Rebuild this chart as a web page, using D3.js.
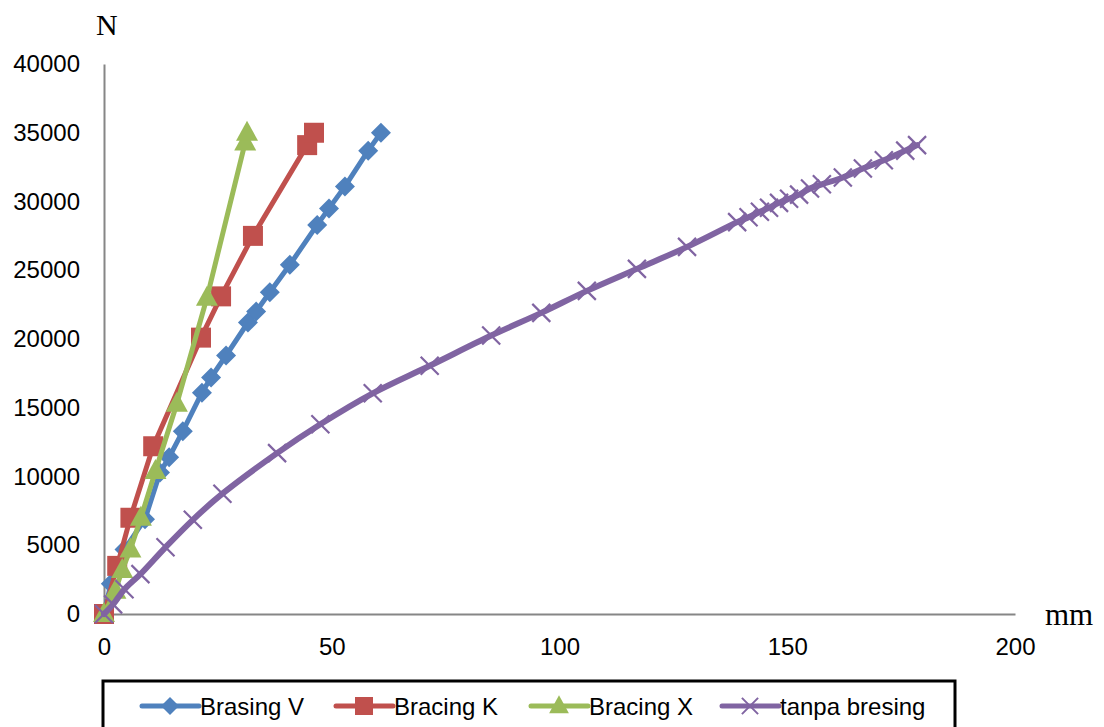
<!DOCTYPE html>
<html>
<head>
<meta charset="utf-8">
<script src="https://cdn.jsdelivr.net/npm/d3@7"></script>
<style>
  html, body { margin: 0; padding: 0; background: #ffffff; }
  svg { display: block; }
</style>
</head>
<body>
<svg id="chart" width="1104" height="727"></svg>
<script>
// Load–deflection test results (N vs mm)
const xTicks = [0, 50, 100, 150, 200];
const yTicks = [0, 5000, 10000, 15000, 20000, 25000, 30000, 35000, 40000];

const seriesNames = ["Brasing V", "Bracing K", "Bracing X", "tanpa bresing"];

const brasingV_mm = [0, 1.5, 4.5, 9, 12.3, 14.3, 17.3, 21.5, 23.5, 26.8, 31.6, 33.4, 36.4, 40.8, 46.8, 49.4, 52.9, 58.0, 60.8];
const brasingV_N  = [0, 2200, 4700, 6900, 10300, 11400, 13300, 16100, 17200, 18800, 21200, 22000, 23400, 25400, 28300, 29500, 31100, 33700, 35000];

const bracingK_mm = [0, 2.9, 5.8, 10.8, 21.3, 25.7, 32.7, 44.6, 46.1];
const bracingK_N  = [0, 3500, 7000, 12200, 20100, 23100, 27500, 34100, 35000];

const bracingX_mm = [0, 2.5, 4.0, 5.8, 8.1, 11.3, 16.0, 22.6, 31.0, 31.4];
const bracingX_N  = [0, 1700, 3200, 4700, 7000, 10400, 15300, 23000, 34300, 35000];

const tanpa_mm = [0, 2, 4.5, 8, 13.5, 19.5, 26, 38, 47.5, 59, 71.5, 85, 96, 106, 117, 128, 139, 141.5, 144, 146, 148.2, 150.4, 152.6, 155, 157.6, 162.2, 166.6, 171.2, 175.9, 178.5];
const tanpa_N  = [0, 700, 1800, 2900, 4850, 6850, 8750, 11700, 13800, 16050, 18050, 20250, 21900, 23500, 25100, 26700, 28500, 28850, 29250, 29550, 29900, 30200, 30500, 30950, 31250, 31750, 32400, 33000, 33700, 34100];

const colors = ["#4F81BD", "#C0504D", "#9BBB59", "#8064A2"];

const svg = d3.select("#chart");

const x = d3.scaleLinear().domain([0, 200]).range([104, 1015]);
const y = d3.scaleLinear().domain([0, 40000]).range([614, 64]);

const tickFont = "'Liberation Sans', Arial, sans-serif";
const axisColor = "#868686";

// Y axis
const yAxis = svg.append("g")
  .attr("transform", `translate(${x(0)},0)`)
  .call(d3.axisLeft(y).tickValues(yTicks).tickSize(0).tickPadding(24).tickFormat(d3.format("d")));
yAxis.select(".domain").attr("stroke", axisColor).attr("stroke-width", 2);
yAxis.selectAll("text").attr("font-family", tickFont).attr("font-size", 24).attr("fill", "#000");

// X axis
const xAxis = svg.append("g")
  .attr("transform", `translate(0,${y(0)})`)
  .call(d3.axisBottom(x).tickValues(xTicks).tickSize(0).tickPadding(24).tickFormat(d3.format("d")));
xAxis.select(".domain").attr("stroke", axisColor).attr("stroke-width", 2);
xAxis.selectAll("text").attr("font-family", tickFont).attr("font-size", 24).attr("fill", "#000");

// Axis titles
svg.append("text").attr("x", 96).attr("y", 35)
  .attr("font-family", "'Liberation Serif', 'Times New Roman', serif")
  .attr("font-size", 30).attr("fill", "#000").text("N");
svg.append("text").attr("x", 1045).attr("y", 625)
  .attr("font-family", "'Liberation Serif', 'Times New Roman', serif")
  .attr("font-size", 31).attr("fill", "#000").text("mm");

// Marker shapes
const markerPath = {
  diamond: "M0,-10L10,0L0,10L-10,0Z",
  square: "M-10,-10H10V10H-10Z",
  triangle: "M0,-12L11,8H-11Z",
  cross: "M-9,-9L9,9M-9,9L9,-9"
};
const markerKinds = ["diamond", "square", "triangle", "cross"];

const series = [
  { xs: brasingV_mm, ys: brasingV_N },
  { xs: bracingK_mm, ys: bracingK_N },
  { xs: bracingX_mm, ys: bracingX_N },
  { xs: tanpa_mm, ys: tanpa_N }
].map((s, i) => ({
  name: seriesNames[i],
  color: colors[i],
  marker: markerKinds[i],
  points: s.xs.map((v, j) => [v, s.ys[j]])
}));

const plot = svg.append("g");

series.forEach((s, i) => {
  const line = d3.line()
    .x(d => x(d[0])).y(d => y(d[1]))
    .curve(i === 3 ? d3.curveCatmullRom.alpha(0.5) : d3.curveLinear);
  const g = plot.append("g");
  g.append("path")
    .attr("d", line(s.points))
    .attr("fill", "none")
    .attr("stroke", s.color)
    .attr("stroke-width", i === 3 ? 6 : 5)
    .attr("stroke-linejoin", "round")
    .attr("stroke-linecap", "round");
  g.selectAll("path.mk").data(s.points).enter().append("path")
    .attr("class", "mk")
    .attr("d", markerPath[s.marker])
    .attr("transform", d => `translate(${x(d[0])},${y(d[1])})`)
    .attr("fill", s.marker === "cross" ? "none" : s.color)
    .attr("stroke", s.color)
    .attr("stroke-width", s.marker === "cross" ? 2.2 : 0);
});

// Legend
const legend = svg.append("g");
legend.append("rect")
  .attr("x", 103).attr("y", 681).attr("width", 852).attr("height", 70)
  .attr("fill", "#fff").attr("stroke", "#000").attr("stroke-width", 3);

const legendX = [142, 336, 531, 722];
series.forEach((s, i) => {
  const lx = legendX[i];
  const ly = 706;
  legend.append("line")
    .attr("x1", lx).attr("x2", lx + 57).attr("y1", ly).attr("y2", ly)
    .attr("stroke", s.color).attr("stroke-width", 5).attr("stroke-linecap", "round");
  legend.append("path")
    .attr("d", markerPath[s.marker])
    .attr("transform", `translate(${lx + 28},${ly}) scale(0.9)`)
    .attr("fill", s.marker === "cross" ? "none" : s.color)
    .attr("stroke", s.color)
    .attr("stroke-width", s.marker === "cross" ? 2.2 : 0);
  legend.append("text")
    .attr("x", lx + 58).attr("y", ly + 9)
    .attr("font-family", tickFont).attr("font-size", 24).attr("fill", "#000")
    .text(s.name);
});
</script>
</body>
</html>
